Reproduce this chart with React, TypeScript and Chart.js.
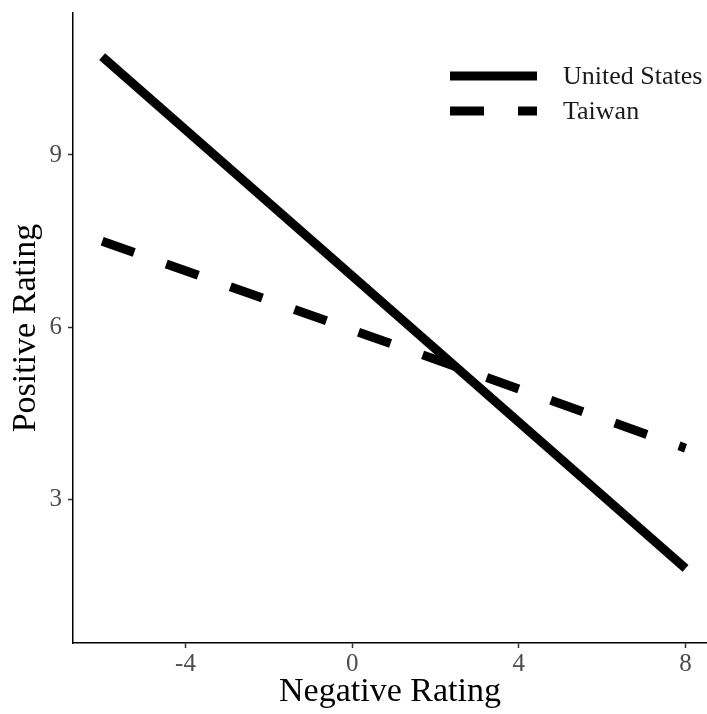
import React, { useEffect, useRef } from "react";
import { Chart, registerables } from "chart.js";

Chart.register(...registerables);

const negativeRating = [-6, 8];
const unitedStates = [10.71, 1.81];
const taiwan = [7.5, 3.9];
const xTicks = [-4, 0, 4, 8];
const yTicks = [3, 6, 9];
const seriesNames = ["United States", "Taiwan"];

const FONT = "'Liberation Serif', 'Times New Roman', serif";
const LINE_W = 9;
const DASH = [34, 34];

const legendPlugin = {
  id: "customLegend",
  afterDraw(chart: any) {
    const ctx = chart.ctx;
    const items = [
      { y: 76, dash: [] as number[], name: seriesNames[0] },
      { y: 111, dash: DASH, name: seriesNames[1] },
    ];
    ctx.save();
    for (const it of items) {
      ctx.beginPath();
      ctx.setLineDash(it.dash);
      ctx.lineDashOffset = 0;
      ctx.lineCap = "butt";
      ctx.lineWidth = LINE_W;
      ctx.strokeStyle = "#000";
      ctx.moveTo(450, it.y);
      ctx.lineTo(537, it.y);
      ctx.stroke();
      ctx.setLineDash([]);
      ctx.fillStyle = "#1a1a1a";
      ctx.font = `26px ${FONT}`;
      ctx.textAlign = "left";
      ctx.textBaseline = "middle";
      ctx.fillText(it.name, 563, it.y + 1);
    }
    ctx.restore();
  },
};

export default function App() {
  const ref = useRef<HTMLCanvasElement | null>(null);
  useEffect(() => {
    document.body.style.margin = "0";
    const canvas = ref.current!;
    const chart = new Chart(canvas, {
      type: "line",
      data: {
        datasets: [
          {
            label: seriesNames[0],
            data: negativeRating.map((x, i) => ({ x, y: unitedStates[i] })),
            borderColor: "#000",
            borderWidth: LINE_W,
            borderCapStyle: "butt",
            pointRadius: 0,
            fill: false,
          },
          {
            label: seriesNames[1],
            data: negativeRating.map((x, i) => ({ x, y: taiwan[i] })),
            borderColor: "#000",
            borderWidth: LINE_W,
            borderDash: DASH,
            borderCapStyle: "butt",
            pointRadius: 0,
            fill: false,
          },
        ],
      },
      options: {
        responsive: false,
        animation: false,
        layout: { padding: { top: 13, left: 0, right: 0, bottom: 0 } },
        plugins: { legend: { display: false }, tooltip: { enabled: false } },
        scales: {
          x: {
            type: "linear",
            min: -6.7,
            max: 8.515,
            afterBuildTicks: (s: any) => {
              s.ticks = xTicks.map((v) => ({ value: v }));
            },
            afterFit: (s: any) => {
              s.height = 71;
              s.paddingLeft = 0;
              s.paddingRight = 0;
            },
            grid: {
              display: true,
              drawOnChartArea: false,
              drawTicks: true,
              tickLength: 5,
              tickColor: "#333",
              tickWidth: 1.5,
            },
            border: { display: true, color: "#000", width: 1.5 },
            ticks: {
              color: "#4d4d4d",
              font: { family: FONT, size: 25 },
              padding: 1,
              maxRotation: 0,
              callback: (v: any) => String(v),
            },
            title: {
              display: true,
              text: "Negative Rating",
              color: "#000",
              font: { family: FONT, size: 34 },
              padding: { top: 0, bottom: 2 },
            },
          },
          y: {
            type: "linear",
            min: 0.51,
            max: 11.47,
            afterBuildTicks: (s: any) => {
              s.ticks = yTicks.map((v) => ({ value: v }));
            },
            afterFit: (s: any) => {
              s.width = 73;
              s.paddingTop = 0;
              s.paddingBottom = 0;
            },
            grid: {
              display: true,
              drawOnChartArea: false,
              drawTicks: true,
              tickLength: 5,
              tickColor: "#333",
              tickWidth: 1.5,
            },
            border: { display: true, color: "#000", width: 1.5 },
            ticks: {
              color: "#4d4d4d",
              font: { family: FONT, size: 25 },
              padding: 6,
              callback: (v: any) => String(v),
            },
            title: {
              display: true,
              text: "Positive Rating",
              color: "#000",
              font: { family: FONT, size: 34 },
              padding: { top: 6, bottom: 0 },
            },
          },
        },
      },
      plugins: [legendPlugin],
    });
    return () => chart.destroy();
  }, []);
  return (
    <div style={{ width: 707, height: 714 }}>
      <canvas ref={ref} width={707} height={714} style={{ display: "block" }} />
    </div>
  );
}
